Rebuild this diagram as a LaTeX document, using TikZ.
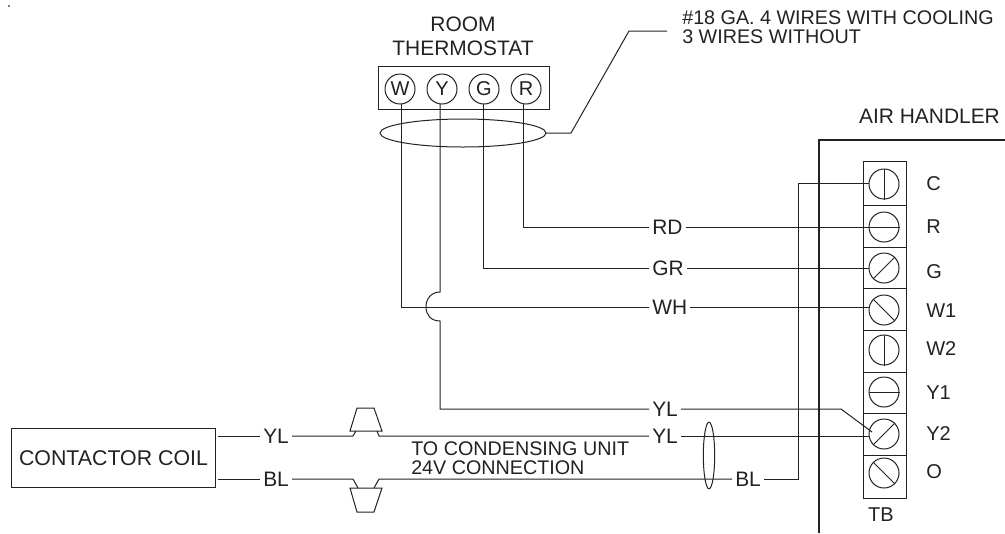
\documentclass[tikz,border=0pt]{standalone}
\usepackage{fontspec}
\setmainfont{Liberation Sans}
\usetikzlibrary{calc,shapes.geometric}
\definecolor{ink}{HTML}{222222}
\tikzset{
  wire/.style={draw=ink,line width=0.75pt,line join=miter},
  frameline/.style={draw=ink,line width=1.9pt},
  txt/.style={inner sep=0pt,text=ink,font=\fontsize{15}{15}\selectfont,text height=10.8pt,text depth=0pt},
  bigtxt/.style={txt,font=\fontsize{15.7}{15.7}\selectfont,text height=11.2pt},
  wirelabel/.style={bigtxt,inner xsep=2.25pt,anchor=west},
  termlabel/.style={txt,anchor=west},
  lead/.style={txt,font=\fontsize{14.8}{14.8}\selectfont,text height=10.6pt,anchor=west,align=left},
  stat/.style={circle,draw=ink,line width=0.75pt,minimum size=22.5pt,inner sep=0pt,text=ink,font=\fontsize{15}{15}\selectfont},
  screw/.style={circle,draw=ink,line width=0.75pt,minimum size=22.5pt,inner sep=0pt},
  cell/.style={draw=ink,line width=0.75pt}
}
\begin{document}
\begin{tikzpicture}[x=0.75pt,y=-0.75pt]
\useasboundingbox (0,0) rectangle (1005,533);
\fill[gray] (7.5,5) rectangle (9.5,7);

% air handler frame
\coordinate (frameTop) at (1005,140);
\coordinate (frameCorner) at (819,140);
\coordinate (frameBot) at (819,533);
\draw[frameline,line cap=butt] (frameTop) -- (frameCorner) -- (frameBot);
\node[bigtxt,anchor=center] (ahlabel) at (929.5,116) {AIR HANDLER};

% terminal block
\draw[cell] (863,161) rectangle (906,498);
\foreach \yy in {205,247,288,330,372,413,455} {\draw[cell] (863,\yy) -- (906,\yy);}
\node[screw] (tC) at (884,184) {};
\node[screw] (tR) at (884,227) {};
\node[screw] (tG) at (884,268) {};
\node[screw] (tWa) at (884,310) {};
\node[screw] (tWb) at (884,350) {};
\node[screw] (tYa) at (884,392) {};
\node[screw] (tYb) at (884,434) {};
\node[screw] (tO) at (884,473) {};
\draw[wire] (tC.north) -- (tC.south);
\draw[wire] (tR.west) -- (tR.east);
\draw[wire] (tG.225) -- (tG.45);
\draw[wire] (tWa.135) -- (tWa.315);
\draw[wire] (tWb.north) -- (tWb.south);
\draw[wire] (tYa.west) -- (tYa.east);
\draw[wire] (tYb.225) -- (tYb.45);
\draw[wire] (tO.135) -- (tO.315);
\node[termlabel] (lC) at (926,183) {C};
\node[termlabel] (lR) at (926,226) {R};
\node[termlabel] (lG) at (926,271) {G};
\node[termlabel] (lWa) at (926,310) {W1};
\node[termlabel] (lWb) at (926,348) {W2};
\node[termlabel] (lYa) at (926,392) {Y1};
\node[termlabel] (lYb) at (926,433) {Y2};
\node[termlabel] (lO) at (926,471) {O};
\node[txt,anchor=center] (lTB) at (881,514) {TB};

% thermostat
\node[bigtxt,anchor=center] (room) at (463,24) {ROOM};
\node[bigtxt,anchor=center] (thermo) at (463,48) {THERMOSTAT};
\node[cell,minimum width=128.25pt,minimum height=32.25pt,inner sep=0pt] (tbox) at (463.5,87.5) {};
\node[stat] (sW) at (400,89) {W};
\node[stat] (sY) at (442,89) {Y};
\node[stat] (sG) at (484,89) {G};
\node[stat] (sR) at (526,89) {R};
\coordinate (wW) at (401,104);
\coordinate (wY) at (440,104);
\coordinate (wG) at (483,104);
\coordinate (wR) at (523,104);

% bundle ellipse and leader
\node[draw=ink,line width=0.75pt,ellipse,minimum width=124.5pt,minimum height=21pt,inner sep=0pt] at (463,133) {};
\coordinate (bundleEnd) at (546,133);
\coordinate (bundleKnee) at (571,133);
\coordinate (leaderKnee) at (629,31);
\coordinate (leaderEnd) at (667,31);
\draw[wire] (bundleEnd) -- (bundleKnee) -- (leaderKnee) -- (leaderEnd);
\node[lead] (note1) at (682,17) {\#18 GA. 4 WIRES WITH COOLING};
\node[lead] (note2) at (682,36) {3 WIRES WITHOUT};

% wire labels
\node[wirelabel] (RD) at (649,227) {RD};
\node[wirelabel] (GR) at (649,268) {GR};
\node[wirelabel] (WH) at (649,307) {WH};
\node[wirelabel] (YLa) at (649,409) {YL};
\node[wirelabel] (YLb) at (649,436) {YL};
\node[wirelabel] (BLr) at (732,479) {BL};
\node[wirelabel] (YLl) at (260,436) {YL};
\node[wirelabel] (BLl) at (260,479) {BL};

% thermostat wires
\draw[wire] (wR) |- (RD.west);
\draw[wire] (RD.east) -- (RD.east -| tR.west);
\draw[wire] (wG) |- (GR.west);
\draw[wire] (GR.east) -- (GR.east -| tG.west);
\draw[wire] (wW) |- (WH.west);
\draw[wire] (WH.east) -- (WH.east -| tWa.west);
\coordinate (hopA) at (440,292);
\coordinate (hopM) at (426,307);
\coordinate (hopB) at (440,321);
\draw[wire] (wY) -- (hopA) .. controls (431,292) and (426,299) .. (hopM) .. controls (426,315) and (431,321) .. (hopB) |- (YLa.west);
\coordinate (yKnee) at (841,409);
\coordinate (yEnd) at (872,432);
\draw[wire] (YLa.east) -- (yKnee) -- (yEnd);

% contactor coil
\node[cell,minimum width=153.4pt,minimum height=44.25pt,inner sep=0pt] (coil) at (113.5,458) {};
\node[txt,anchor=center,font=\fontsize{16}{16}\selectfont,text height=11.4pt] (coiltext) at (113.5,458) {CONTACTOR COIL};
\coordinate (coilY) at (218,436);
\coordinate (coilB) at (218,479);
\draw[wire] (coilY) -- (YLl.west);
\draw[wire] (coilB) -- (BLl.west);

% plug shapes
\draw[wire] (350,431) -- (357,408) -- (374,408) -- (382,431) -- cycle;
\draw[wire] (350,488) -- (357,512) -- (374,512) -- (382,488) -- cycle;
\coordinate (pYa) at (353,436);
\coordinate (pYb) at (356,431);
\coordinate (pYc) at (377,431);
\coordinate (pYd) at (379,436);
\coordinate (pBa) at (353,479);
\coordinate (pBb) at (358,488);
\coordinate (pBc) at (374,488);
\coordinate (pBd) at (379,479);
\draw[wire] (YLl.east) -- (pYa) -- (pYb);
\draw[wire] (pYc) -- (pYd) -- (YLb.west);
\draw[wire] (YLb.east) -- (YLb.east -| tYb.west);
\draw[wire] (BLl.east) -- (pBa) -- (pBb);
\draw[wire] (pBc) -- (pBd) -- (BLr.west);
\coordinate (cCorner) at (798,183);
\draw[wire] (BLr.east) -| (cCorner) -- (cCorner -| tC.west);

% cable ellipse
\node[draw=ink,line width=0.75pt,ellipse,minimum width=8.5pt,minimum height=50pt,inner sep=0pt] at (709,455.5) {};

% note text
\node[lead] (cond1) at (411,448) {TO CONDENSING UNIT};
\node[lead] (cond2) at (411,467) {24V CONNECTION};
\end{tikzpicture}
\end{document}
